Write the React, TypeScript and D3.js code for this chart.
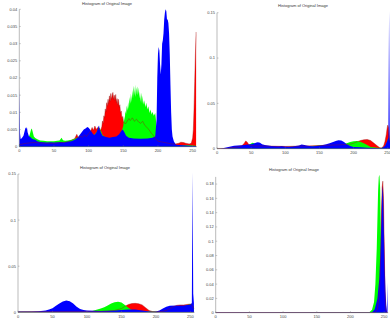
import * as d3 from "d3";

// histogram values per channel, [bin, fraction of pixels]
const p1Red = [[0,0.0006],[10,0.001],[20,0.0012],[30,0.0011],[40,0.001],[50,0.001],[60,0.0012],[70,0.0014],[75,0.0018],[80,0.0024],[83,0.0036],[85,0.0026],[88,0.003],[91,0.0028],[94,0.0034],[97,0.003],[100,0.0038],[103,0.0046],[105,0.0056],[107,0.0048],[109,0.006],[111,0.005],[113,0.0056],[115,0.0052],[117,0.0046],[119,0.0058],[120,0.0075],[121,0.0068],[122,0.009],[123,0.0085],[124,0.011],[125,0.0102],[126,0.0128],[127,0.0118],[128,0.0138],[129,0.0125],[130,0.0148],[131,0.0132],[132,0.0155],[133,0.0138],[134,0.015],[135,0.0158],[136,0.0138],[137,0.015],[138,0.0135],[139,0.0152],[140,0.0128],[141,0.014],[142,0.0122],[143,0.0138],[144,0.0115],[145,0.0122],[146,0.0098],[147,0.0104],[148,0.0085],[149,0.0088],[150,0.0074],[153,0.0066],[155,0.0072],[158,0.0082],[160,0.0076],[163,0.0084],[166,0.0074],[169,0.008],[172,0.0072],[175,0.0068],[178,0.0074],[181,0.0062],[184,0.0056],[187,0.005],[190,0.004],[193,0.0034],[196,0.0024],[200,0.0016],[205,0.0014],[210,0.0012],[215,0.001],[220,0.0008],[225,0.0008],[230,0.001],[233,0.0013],[237,0.0012],[240,0.001],[245,0.0008],[248,0.001],[250,0.0025],[251,0.005],[252,0.011],[253,0.019],[254,0.027],[255,0.0334]];
const p1Green = [[0,0.0008],[5,0.001],[10,0.0015],[13,0.0025],[15,0.0035],[17,0.005],[18,0.0053],[19,0.0046],[21,0.003],[23,0.0025],[26,0.0022],[30,0.0018],[35,0.0017],[40,0.0016],[50,0.0016],[55,0.0017],[58,0.0018],[61,0.0026],[63,0.0019],[66,0.0017],[70,0.0018],[75,0.002],[80,0.0023],[85,0.0028],[88,0.0032],[92,0.0035],[95,0.004],[98,0.0042],[100,0.0044],[103,0.0036],[106,0.0032],[109,0.0036],[112,0.0044],[114,0.0052],[116,0.0055],[118,0.0046],[120,0.0034],[125,0.0026],[130,0.0022],[135,0.0022],[140,0.0026],[145,0.0036],[148,0.0048],[150,0.006],[151,0.009],[152,0.0075],[153,0.0105],[154,0.0095],[155,0.012],[156,0.0105],[157,0.013],[158,0.011],[159,0.0145],[160,0.0125],[161,0.0155],[162,0.013],[163,0.0165],[164,0.014],[165,0.0178],[166,0.015],[167,0.018],[168,0.0145],[169,0.0165],[170,0.0175],[171,0.015],[172,0.0172],[173,0.014],[174,0.016],[175,0.013],[176,0.0158],[177,0.0125],[178,0.0148],[179,0.0122],[180,0.0135],[182,0.0115],[183,0.0128],[185,0.0108],[186,0.0118],[188,0.0098],[189,0.0108],[191,0.0094],[192,0.0102],[194,0.009],[196,0.0098],[197,0.008],[198,0.004],[200,0.002],[205,0.0018],[210,0.0015],[215,0.0016],[218,0.0014],[220,0.001],[225,0.0005],[235,0.0004],[245,0.0004],[255,0.0003]];
const p1Blue = [[0,0.0174],[1,0.004],[2,0.0022],[4,0.0026],[6,0.0032],[8,0.0048],[9,0.0056],[10,0.0052],[11,0.0057],[12,0.0042],[14,0.003],[16,0.0028],[18,0.0024],[20,0.0022],[23,0.002],[26,0.0016],[30,0.0014],[35,0.0013],[40,0.0012],[45,0.0013],[50,0.0012],[55,0.0013],[60,0.0014],[65,0.0013],[70,0.0015],[75,0.0016],[80,0.002],[84,0.0026],[87,0.0034],[90,0.0042],[93,0.005],[96,0.0054],[98,0.0057],[100,0.0055],[102,0.005],[104,0.0044],[106,0.0038],[108,0.0034],[110,0.0038],[112,0.0044],[114,0.0058],[115,0.0062],[116,0.005],[118,0.004],[120,0.0032],[125,0.0028],[130,0.0026],[135,0.0028],[140,0.003],[144,0.0036],[147,0.0046],[149,0.005],[151,0.0044],[154,0.0032],[158,0.0026],[165,0.0024],[175,0.0023],[185,0.0024],[192,0.0026],[196,0.003],[198,0.008],[199,0.02],[200,0.027],[201,0.029],[202,0.028],[203,0.024],[204,0.021],[205,0.024],[206,0.03],[207,0.031],[208,0.033],[209,0.037],[210,0.039],[211,0.04],[212,0.0395],[213,0.037],[214,0.037],[215,0.036],[216,0.033],[217,0.027],[218,0.018],[219,0.01],[220,0.005],[221,0.003],[223,0.0015],[226,0.0006],[235,0.0004],[245,0.0003],[255,0.0002]];

const p2Red = [[0,0.0003],[15,0.0003],[20,0.001],[30,0.002],[36,0.003],[40,0.006],[42,0.0085],[44,0.0075],[47,0.004],[55,0.003],[70,0.003],[100,0.0025],[130,0.003],[150,0.0035],[170,0.004],[185,0.0045],[195,0.005],[200,0.006],[205,0.0075],[210,0.009],[215,0.0098],[220,0.0102],[225,0.009],[230,0.006],[235,0.003],[238,0.0012],[241,0.0008],[244,0.003],[246,0.008],[248,0.016],[249,0.022],[250,0.026],[251,0.024],[252,0.015],[253,0.008],[255,0.004]];
const p2Green = [[0,0.0003],[15,0.0003],[20,0.001],[30,0.002],[40,0.003],[45,0.004],[48,0.005],[52,0.0066],[55,0.006],[58,0.005],[65,0.003],[80,0.002],[100,0.002],[120,0.0025],[140,0.003],[150,0.0035],[160,0.004],[170,0.004],[180,0.0045],[190,0.006],[195,0.0075],[200,0.0082],[205,0.0085],[210,0.0078],[215,0.006],[220,0.004],[225,0.002],[235,0.001],[240,0.0008],[245,0.002],[248,0.005],[250,0.01],[251,0.012],[252,0.012],[253,0.008],[255,0.004]];
const p2Blue = [[0,0.0002],[5,0.0003],[10,0.0008],[15,0.0015],[20,0.0025],[25,0.0032],[30,0.0035],[35,0.0037],[40,0.004],[45,0.0045],[50,0.005],[55,0.006],[58,0.0068],[60,0.007],[63,0.0065],[66,0.005],[70,0.004],[75,0.0035],[80,0.003],[90,0.0028],[95,0.003],[100,0.0025],[105,0.0022],[110,0.0025],[115,0.003],[120,0.0035],[124,0.0045],[128,0.004],[135,0.003],[140,0.0028],[145,0.003],[150,0.0035],[155,0.004],[160,0.005],[165,0.006],[170,0.0075],[175,0.0088],[178,0.0094],[182,0.009],[186,0.0075],[190,0.005],[195,0.003],[200,0.002],[210,0.0015],[220,0.001],[230,0.0008],[238,0.0005],[242,0.001],[246,0.003],[249,0.008],[251,0.012],[252,0.152],[253,0.01],[255,0.005]];

const p3Red = [[0,0.0005],[60,0.0008],[100,0.001],[130,0.0012],[140,0.002],[150,0.004],[155,0.0065],[160,0.0085],[165,0.0095],[170,0.0097],[175,0.0093],[180,0.008],[185,0.005],[190,0.002],[195,0.0008],[200,0.0005],[210,0.001],[215,0.002],[220,0.004],[225,0.006],[230,0.0075],[235,0.008],[240,0.008],[245,0.0085],[250,0.009],[253,0.007],[255,0.004]];
const p3Green = [[0,0.0005],[100,0.0005],[105,0.001],[110,0.002],[115,0.003],[120,0.004],[125,0.0055],[130,0.0075],[135,0.0095],[140,0.011],[145,0.0115],[150,0.0105],[155,0.008],[160,0.005],[165,0.0025],[170,0.001],[180,0.0005],[190,0.001],[210,0.001],[220,0.002],[230,0.004],[240,0.006],[245,0.008],[250,0.009],[252,0.008],[255,0.006]];
const p3Blue = [[0,0.001],[20,0.001],[30,0.0012],[40,0.002],[45,0.003],[50,0.0045],[55,0.007],[60,0.0095],[65,0.0118],[70,0.0128],[75,0.012],[80,0.0095],[85,0.006],[90,0.0035],[95,0.0025],[100,0.002],[110,0.0018],[120,0.0015],[140,0.002],[160,0.003],[170,0.003],[180,0.002],[190,0.0008],[195,0.0005],[200,0.001],[205,0.002],[210,0.004],[215,0.006],[220,0.007],[230,0.0075],[240,0.0075],[245,0.008],[250,0.0085],[252,0.01],[253,0.152],[254,0.02],[255,0.01]];

const p4Red = [[0,0.0003],[236,0.0003],[240,0.005],[243,0.03],[245,0.09],[246,0.14],[247,0.175],[248,0.184],[249,0.16],[250,0.1],[251,0.04],[252,0.01],[253,0.001],[255,0.0003]];
const p4Green = [[0,0.0003],[228,0.0005],[232,0.004],[235,0.015],[237,0.04],[239,0.09],[240,0.13],[241,0.17],[242,0.19],[243,0.193],[244,0.175],[245,0.12],[246,0.06],[247,0.02],[248,0.005],[250,0.0005],[255,0.0003]];
const p4Blue = [[0,0.0006],[232,0.0006],[236,0.005],[240,0.02],[243,0.05],[245,0.1],[246,0.14],[247,0.17],[248,0.178],[249,0.15],[250,0.1],[251,0.06],[252,0.03],[253,0.012],[254,0.002],[255,0.042]];

const xTicks = [0, 50, 100, 150, 200, 250];
const yTicks1 = [0, 0.005, 0.01, 0.015, 0.02, 0.025, 0.03, 0.035, 0.04];
const yTicks2 = [0, 0.05, 0.1, 0.15];
const yTicks4 = [0, 0.02, 0.04, 0.06, 0.08, 0.1, 0.12, 0.14, 0.16, 0.18];
const title = "Histogram of Original Image";

const fmt = (d: number) => String(+d.toFixed(3));

function Panel(props: any) {
  const { red, green, blue, xRange, yRange, yMax, yTicks, titleX, titleY } = props;
  const x = d3.scaleLinear().domain([0, 256]).range(xRange);
  const y = d3.scaleLinear().domain([0, yMax]).range(yRange);
  const area = d3.area<number[]>().x(d => x(d[0])).y0(y(0)).y1(d => y(d[1]));
  const line = d3.line<number[]>().x(d => x(d[0])).y(d => y(d[1]));
  const axisColor = "#777";
  return (
    <g>
      <path d={area(red) || ""} fill="#ff0000" />
      <path d={area(green) || ""} fill="#00ff00" />
      <path d={area(blue) || ""} fill="#0000ff" />
      <path d={line(red) || ""} fill="none" stroke="#a01010" strokeWidth={0.4} />
      {/* axes */}
      <line x1={x(0)} x2={x(0)} y1={y(0)} y2={y(yMax)} stroke={axisColor} strokeWidth={0.5} />
      <line x1={x(0)} x2={x(256)} y1={y(0)} y2={y(0)} stroke={axisColor} strokeWidth={0.5} />
      {yTicks.map((t: number) => (
        <g key={"y" + t}>
          <line x1={x(0)} x2={x(0) + 1.5} y1={y(t)} y2={y(t)} stroke={axisColor} strokeWidth={0.4} />
          <text x={x(0) - 2} y={y(t)} dy="0.35em" textAnchor="end" fontSize={4} fill="#444">{fmt(t)}</text>
        </g>
      ))}
      {xTicks.map(t => (
        <g key={"x" + t}>
          <line x1={x(t)} x2={x(t)} y1={y(0)} y2={y(0) - 1.5} stroke={axisColor} strokeWidth={0.4} />
          <text x={x(t)} y={y(0) + 5.5} textAnchor="middle" fontSize={4} fill="#444">{t}</text>
        </g>
      ))}
      <text x={titleX} y={titleY} textAnchor="middle" fontSize={4} fill="#333">{title}</text>
    </g>
  );
}

export default function App() {
  return (
    <svg width={390} height={322} style={{ position: "absolute", left: 0, top: 0, background: "#fff" }}
      fontFamily="'Liberation Sans', Arial, sans-serif">
      <rect width={390} height={322} fill="#fff" />
      <Panel red={p1Red} green={p1Green} blue={p1Blue} xRange={[19.3, 196.8]} yRange={[146.7, 9.3]}
        yMax={0.04} yTicks={yTicks1} titleX={107} titleY={5} />
      <Panel red={p2Red} green={p2Green} blue={p2Blue} xRange={[217, 391.8]} yRange={[148.7, 12.7]}
        yMax={0.15} yTicks={yTicks2} titleX={303} titleY={7} />
      <Panel red={p3Red} green={p3Green} blue={p3Blue} xRange={[18, 194.6]} yRange={[312.3, 174]}
        yMax={0.15} yTicks={yTicks2} titleX={105} titleY={169} />
      <Panel red={p4Red} green={p4Green} blue={p4Blue} xRange={[215.7, 388.2]} yRange={[312.7, 176.9]}
        yMax={0.19} yTicks={yTicks4} titleX={294} titleY={171} />
    </svg>
  );
}
